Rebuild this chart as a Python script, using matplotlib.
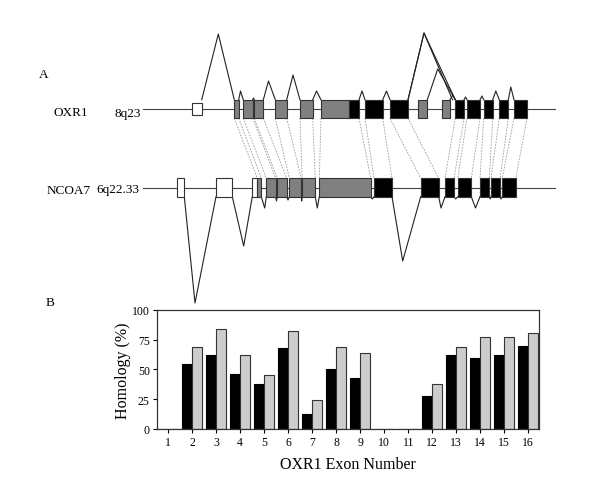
import numpy as np
import matplotlib
matplotlib.use('Agg')
from matplotlib import pyplot as plt
from matplotlib.patches import Rectangle

plt.rcParams['font.family'] = 'Liberation Serif'

# ---- Panel A: exon maps (diagram units, left to right / top to bottom) ----
oxr1_starts = [191.7, 234.3, 243.3, 254.3, 275.3, 300.0, 321.0, 349.3, 365.0, 390.0,
               418.3, 441.7, 455.3, 467.0, 483.7, 499.3, 514.0]
oxr1_ends = [201.7, 238.7, 252.7, 263.3, 286.7, 312.7, 349.3, 359.0, 382.7, 408.0,
             427.3, 450.0, 464.0, 480.0, 492.7, 508.3, 527.0]
oxr1_kind = ['u', 'g', 'g', 'g', 'g', 'g', 'g', 'k', 'k', 'k', 'g', 'g', 'k', 'k', 'k', 'k', 'k']

# splice junctions: (donor, apex x, apex y, acceptor)
oxr1_junctions = [
    (201.7, 218.3, 35, 234.3), (238.7, 240.5, 92, 243.3), (252.7, 253.5, 99, 254.3),
    (263.3, 268.5, 82, 275.3), (286.7, 293.0, 76, 300.0), (312.7, 316.5, 92, 321.0),
    (359.0, 362.0, 92, 365.0), (382.7, 386.5, 92, 390.0), (408.0, 424.0, 34, 455.3),
    (408.0, 424.0, 34, 452.5), (427.3, 437.7, 70, 455.3), (450.0, 452.8, 96, 455.3),
    (464.0, 465.5, 98, 467.0), (480.0, 482.0, 97, 483.7), (492.7, 495.8, 92, 499.3),
    (508.3, 510.8, 88, 514.0),
]

ncoa7_starts = [176.7, 216.0, 252.3, 257.3, 266.3, 277.3, 289.3, 302.2, 319.3, 374.0,
                420.7, 445.0, 457.7, 480.0, 491.0, 502.3]
ncoa7_ends = [184.3, 232.3, 257.3, 261.3, 275.7, 286.7, 301.2, 315.3, 370.7, 392.0,
              438.7, 454.0, 471.3, 489.3, 500.0, 515.7]
ncoa7_kind = ['u', 'u', 'u', 'g', 'g', 'g', 'g', 'g', 'g', 'k', 'k', 'k', 'k', 'k', 'k', 'k']

ncoa7_junctions = [
    (184.3, 195.0, 304, 216.0), (232.3, 243.7, 247, 252.3), (261.3, 264.7, 209, 266.3),
    (275.7, 276.5, 202, 277.3), (286.7, 288.0, 201, 289.3), (301.2, 301.7, 202, 302.2),
    (315.3, 317.3, 209, 319.3), (370.7, 372.3, 200, 374.0), (392.0, 402.7, 262, 420.7),
    (438.7, 441.0, 209, 445.0), (454.0, 455.8, 200, 457.7), (471.3, 475.5, 209, 480.0),
    (489.3, 490.2, 200, 491.0), (500.0, 501.1, 200, 502.3),
]

# homologous exon boundaries (OXR1 -> NCOA7)
conn_oxr1 = [234.3, 238.7, 243.3, 252.7, 254.3, 263.3, 275.3, 286.7, 300.0, 312.7, 321.0,
             359.0, 365.0, 382.7, 390.0, 408.0, 455.3, 464.0, 467.0, 480.0, 483.7, 492.7,
             499.3, 508.3, 514.0, 527.0]
conn_ncoa7 = [257.3, 261.3, 266.3, 275.7, 277.3, 286.7, 289.3, 301.2, 302.2, 315.3, 319.3,
              370.7, 374.0, 392.0, 420.7, 438.7, 445.0, 454.0, 457.7, 471.3, 480.0, 489.3,
              491.0, 500.0, 502.3, 515.7]

# ---- Panel B: homology per OXR1 exon ----
exon_numbers = list(range(1, 17))
homology_nt = [0, 55, 62, 46, 38, 68, 13, 50, 43, 0, 0, 28, 62, 60, 62, 70]
homology_aa = [0, 69, 84, 62, 45, 82, 24, 69, 64, 0, 0, 38, 69, 77, 77, 81]

fill = {'u': 'white', 'g': '#808080', 'k': 'black'}

fig = plt.figure(figsize=(6.0, 4.89), dpi=100)

ax0 = fig.add_axes([0, 0, 1, 1])
ax0.set_xlim(0, 600)
ax0.set_ylim(489, 0)
ax0.axis('off')


def draw_gene(y, starts, ends, kinds, junctions, up):
    half = 9.2
    ax0.plot([143.3, 555], [y, y], color='#444444', lw=0.8, zorder=1)
    for s, e, k in zip(starts, ends, kinds):
        h = 6.3 if (up and k == 'u') else half
        ax0.add_patch(Rectangle((s, y - h), e - s, 2 * h, facecolor=fill[k],
                                edgecolor='#333333', lw=0.8, zorder=2))
    for d, px, py, a in junctions:
        base = y - half if up else y + half
        ax0.plot([d, px, a], [base, py, base], color='#222222', lw=0.8, zorder=1)


draw_gene(110, oxr1_starts, oxr1_ends, oxr1_kind, oxr1_junctions, True)
draw_gene(188.5, ncoa7_starts, ncoa7_ends, ncoa7_kind, ncoa7_junctions, False)
for xt, xb in zip(conn_oxr1, conn_ncoa7):
    ax0.plot([xt, xb], [119.2, 179.3], color='#9a9a9a', lw=0.6,
             linestyle=(0, (2, 1.5)), zorder=0)

txt = dict(fontsize=9.5, va='baseline')
ax0.text(43.7, 78.5, 'A', ha='center', **txt)
ax0.text(71, 116.5, 'OXR1', ha='center', **txt)
ax0.text(128, 116.5, '8q23', ha='center', **txt)
ax0.text(68.3, 193.5, 'NCOA7', ha='center', **txt)
ax0.text(118.3, 193.5, '6q22.33', ha='center', **txt)
ax0.text(50, 306, 'B', ha='center', **txt)

# ---- bar chart ----
ax = fig.add_axes([0.2612, 0.1207, 0.6372, 0.2434])
x = np.array(exon_numbers)
w = 0.415
ax.bar(x - w / 2, homology_nt, width=w, color='black', edgecolor='black', lw=0.8)
ax.bar(x + w / 2, homology_aa, width=w, color='#cccccc', edgecolor='#333333', lw=0.8)
ax.set_xlim(0.52, 16.45)
ax.set_ylim(0, 100)
ax.set_xticks(x)
ax.set_yticks([0, 25, 50, 75, 100])
ax.tick_params(direction='out', length=3, width=0.8, labelsize=8.5, pad=2)
for sp in ax.spines.values():
    sp.set_linewidth(0.9)
    sp.set_color('#333333')
ax.set_ylabel('Homology (%)', fontsize=11.5, labelpad=1)
ax.set_xlabel('OXR1 Exon Number', fontsize=11.5, labelpad=6)

fig.savefig('out.png', dpi=100)
